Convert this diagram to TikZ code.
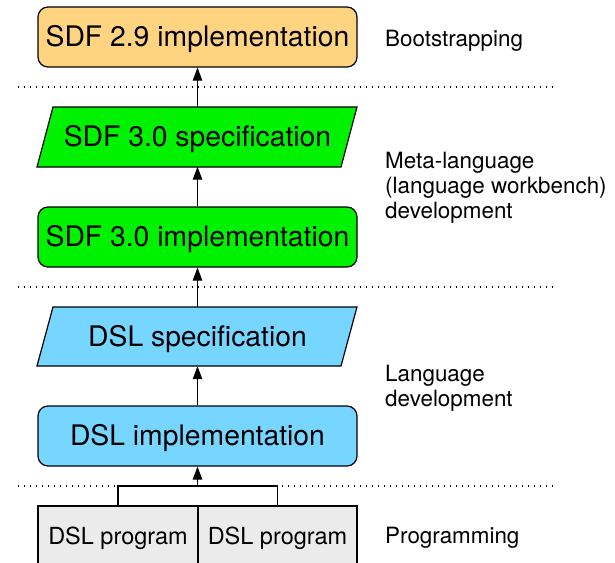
\documentclass[tikz,border=0pt]{standalone}
\usepackage{fontspec}
\setmainfont{TeX Gyre Heros}
\usetikzlibrary{arrows.meta}
\definecolor{boot}{RGB}{255,212,128}
\definecolor{meta}{RGB}{0,242,0}
\definecolor{dsl}{RGB}{118,214,255}
\definecolor{prog}{RGB}{235,235,235}
\tikzset{
  box/.style={draw, line width=1.2pt, rounded corners=10pt, minimum width=319pt, minimum height=60pt, inner sep=0pt},
  boxtext/.style={inner sep=0pt, font=\fontsize{28.3}{30}\selectfont},
  paratext/.style={draw=none, minimum width=300pt, minimum height=59pt, inner sep=0pt},
  para/.style={draw, line width=1.2pt},
  progbox/.style={draw, line width=1.2pt, fill=prog},
  progtext/.style={inner sep=0pt, font=\fontsize{23.5}{26}\selectfont},
  lbl/.style={anchor=west, align=left, inner sep=0pt, font=\fontsize{22.4}{25}\selectfont},
  sep/.style={line width=1.2pt, dash pattern=on 1.3pt off 4.7pt},
  conn/.style={line width=1.2pt, -{Triangle[length=13pt,width=9.5pt]}},
  plain/.style={line width=1.2pt}
}
\begin{document}
\begin{tikzpicture}[x=1pt,y=-1pt]
\useasboundingbox (0,0) rectangle (615,562);
% separators
\draw[sep] (18,87) -- (555,87);
\draw[sep] (18,287) -- (555,287);
\draw[sep] (18,486) -- (555,486);
% boxes
\node[box, fill=boot] (sdf29) at (197.5,37) {};
\node[boxtext] (t29) at (197.5,39.5) {SDF 2.9 implementation};
\draw[para, fill=meta] (53,107) -- (357,107) -- (341,167) -- (37,167) -- cycle;
\node[paratext] (sdf30spec) at (197.5,137) {};
\node[boxtext] (t30s) at (197.5,139.5) {SDF 3.0 specification};
\node[box, fill=meta] (sdf30impl) at (197.5,237) {};
\node[boxtext] (t30i) at (197.5,239.5) {SDF 3.0 implementation};
\draw[para, fill=dsl] (53,307) -- (357,307) -- (341,366) -- (37,366) -- cycle;
\node[paratext] (dslspec) at (197.5,336.5) {};
\node[boxtext] (tds) at (197.5,339) {DSL specification};
\node[box, fill=dsl] (dslimpl) at (197.5,436) {};
\node[boxtext] (tdi) at (197.5,438.5) {DSL implementation};
% programs
\draw[progbox] (38,572) -- (38,506) -- (198,506) -- (198,572);
\draw[progbox] (198,572) -- (198,506) -- (357,506) -- (357,572);
\node[progtext] (prog1) at (118,538.5) {DSL program};
\node[progtext] (prog2) at (277.5,538.5) {DSL program};
\coordinate (p1top) at (118,506);
\coordinate (p2top) at (277.5,506);
\coordinate (join) at (197.5,486);
% connectors
\draw[conn] (sdf30spec.north) -- (sdf29.south);
\draw[conn] (sdf30impl.north) -- (sdf30spec.south);
\draw[conn] (dslspec.north) -- (sdf30impl.south);
\draw[conn] (dslimpl.north) -- (dslspec.south);
\draw[plain] (p1top) |- (join) -| (p2top);
\draw[conn] (join) -- (dslimpl.south);
% labels
\node[lbl] (l1) at (385,41) {Bootstrapping};
\node[lbl] (l2) at (385,188) {Meta-language\\(language workbench)\\development};
\node[lbl] (l3) at (385,388.5) {Language\\development};
\node[lbl] (l4) at (385,538) {Programming};
\end{tikzpicture}
\end{document}
